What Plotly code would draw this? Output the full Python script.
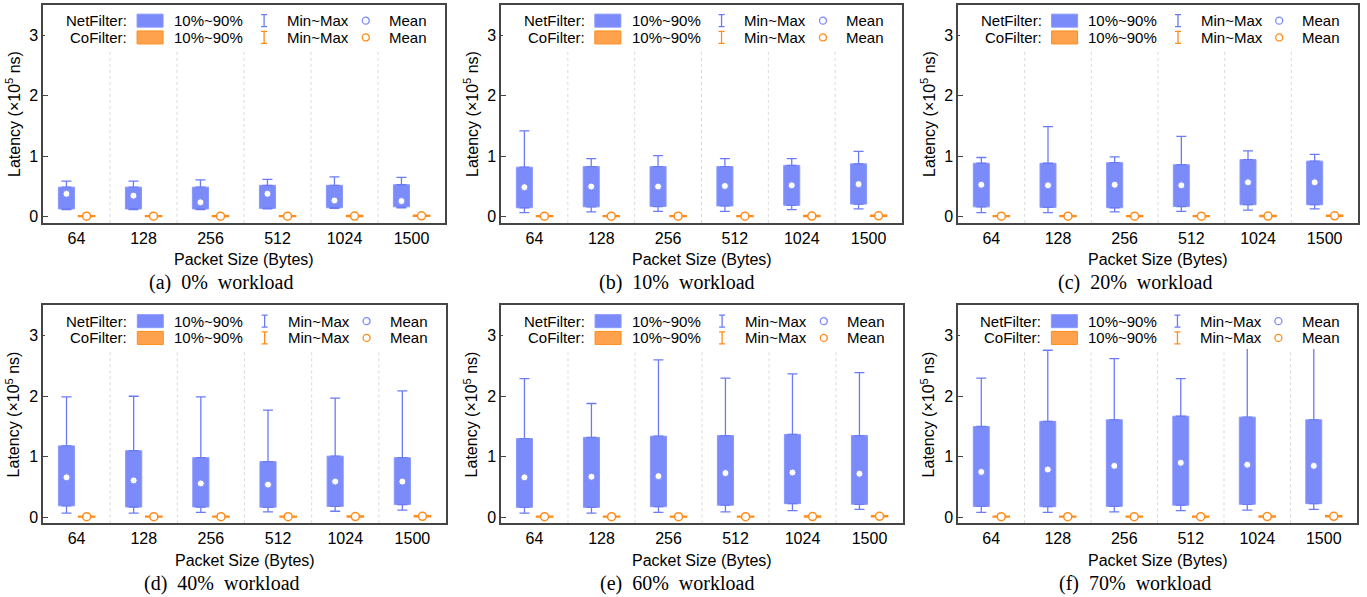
import plotly.graph_objects as go

# ---------------- data (latency in units of 1e5 ns) ----------------
sizes = ["64", "128", "256", "512", "1024", "1500"]
workloads = ["0%", "10%", "20%", "40%", "60%", "70%"]
panel_tags = ["(a)", "(b)", "(c)", "(d)", "(e)", "(f)"]

# NetFilter, one row per workload panel
net_p10 = [
    [0.13, 0.13, 0.13, 0.14, 0.15, 0.165],
    [0.15, 0.165, 0.17, 0.18, 0.19, 0.21],
    [0.165, 0.155, 0.15, 0.17, 0.20, 0.20],
    [0.19, 0.17, 0.17, 0.165, 0.18, 0.21],
    [0.165, 0.165, 0.175, 0.20, 0.225, 0.215],
    [0.18, 0.175, 0.18, 0.20, 0.215, 0.225],
]
net_p90 = [
    [0.49, 0.49, 0.49, 0.52, 0.52, 0.53],
    [0.82, 0.83, 0.83, 0.83, 0.85, 0.875],
    [0.885, 0.885, 0.895, 0.86, 0.945, 0.92],
    [1.18, 1.10, 0.985, 0.92, 1.01, 0.985],
    [1.30, 1.32, 1.34, 1.35, 1.37, 1.35],
    [1.50, 1.585, 1.61, 1.67, 1.655, 1.61],
]
net_min = [
    [0.12, 0.12, 0.12, 0.13, 0.14, 0.15],
    [0.07, 0.08, 0.09, 0.09, 0.12, 0.13],
    [0.07, 0.07, 0.08, 0.09, 0.11, 0.13],
    [0.07, 0.07, 0.08, 0.09, 0.10, 0.12],
    [0.07, 0.07, 0.08, 0.09, 0.11, 0.13],
    [0.08, 0.08, 0.09, 0.11, 0.12, 0.13],
]
net_max = [
    [0.59, 0.59, 0.61, 0.62, 0.66, 0.65],
    [1.42, 0.96, 1.01, 0.96, 0.96, 1.08],
    [0.98, 1.49, 0.99, 1.33, 1.09, 1.03],
    [1.99, 2.00, 1.99, 1.77, 1.97, 2.09],
    [2.29, 1.88, 2.60, 2.30, 2.37, 2.39],
    [2.30, 2.76, 2.62, 2.29, 3.10, 3.05],
]
net_mean = [
    [0.38, 0.35, 0.24, 0.38, 0.27, 0.26],
    [0.49, 0.50, 0.50, 0.51, 0.52, 0.54],
    [0.53, 0.52, 0.53, 0.52, 0.57, 0.57],
    [0.66, 0.61, 0.56, 0.54, 0.59, 0.59],
    [0.66, 0.67, 0.68, 0.73, 0.74, 0.72],
    [0.75, 0.79, 0.85, 0.90, 0.87, 0.85],
]
# CoFilter (nearly flat, same in every panel)
cof_p10 = [0.004, 0.004, 0.004, 0.004, 0.006, 0.008]
cof_p90 = [0.016, 0.016, 0.016, 0.016, 0.020, 0.024]
cof_mean = [0.010, 0.010, 0.010, 0.010, 0.013, 0.016]

# ---------------- style ----------------
W, H = 1367, 597
SANS = "Liberation Sans, Arial, sans-serif"
SERIF = "Liberation Serif, Times New Roman, serif"
BLUE_FILL = "#7c8bfa"
BLUE_LINE = "#8a98fb"
BLUE_WHISK = "#6b7bf6"
ORG_FILL = "#ffa24d"
ORG_LINE = "#ff8c1a"
FRAME = "#454545"
FS = 16

# plot-area pixel boxes (left, right, top, bottom)
boxes = [
    (43, 445, 5, 224), (501, 902, 5, 224), (958, 1358, 5, 224),
    (43, 446, 307, 526), (501, 903, 307, 526), (958, 1357, 307, 526),
]
caption_x = [221, 677, 1135, 222, 677, 1135]
caption_y = [284, 284, 284, 586, 586, 586]
xtitle_dy = 37

OFF = 0.15
BW = 0.24
xs = list(range(len(sizes)))

fig = go.Figure()
layout = dict(
    width=W, height=H, autosize=False,
    margin=dict(l=0, r=0, t=0, b=0),
    paper_bgcolor="white", plot_bgcolor="white",
    showlegend=False, barmode="overlay",
    font=dict(family=SANS, size=FS, color="black"),
)
shapes = []
annotations = []

for k in range(6):
    n = "" if k == 0 else str(k + 1)
    xr, yr = "x" + n, "y" + n
    L, R, T, B = boxes[k]
    xnet = [i - OFF for i in xs]
    xcof = [i + OFF for i in xs]

    fig.add_trace(go.Bar(
        x=xnet, base=net_p10[k],
        y=[a - b for a, b in zip(net_p90[k], net_p10[k])],
        width=BW, marker=dict(color=BLUE_FILL, line=dict(color=BLUE_LINE, width=1)),
        xaxis=xr, yaxis=yr, hoverinfo="skip"))
    fig.add_trace(go.Bar(
        x=xcof, base=cof_p10,
        y=[a - b for a, b in zip(cof_p90, cof_p10)],
        width=BW, marker=dict(color=ORG_FILL, line=dict(color=ORG_LINE, width=1.5)),
        xaxis=xr, yaxis=yr, hoverinfo="skip"))
    # upper whisker
    fig.add_trace(go.Scatter(
        x=xnet, y=net_p90[k], mode="markers",
        marker=dict(size=1, color="rgba(0,0,0,0)"),
        error_y=dict(type="data", symmetric=False,
                     array=[a - b for a, b in zip(net_max[k], net_p90[k])],
                     arrayminus=[0] * 6, color=BLUE_WHISK, thickness=1.3, width=5),
        xaxis=xr, yaxis=yr, hoverinfo="skip"))
    # lower whisker
    fig.add_trace(go.Scatter(
        x=xnet, y=net_p10[k], mode="markers",
        marker=dict(size=1, color="rgba(0,0,0,0)"),
        error_y=dict(type="data", symmetric=False,
                     array=[0] * 6,
                     arrayminus=[a - b for a, b in zip(net_p10[k], net_min[k])],
                     color=BLUE_WHISK, thickness=1.3, width=5),
        xaxis=xr, yaxis=yr, hoverinfo="skip"))
    # means
    fig.add_trace(go.Scatter(
        x=xnet, y=net_mean[k], mode="markers",
        marker=dict(size=7, color="white", line=dict(color=BLUE_FILL, width=1)),
        xaxis=xr, yaxis=yr, hoverinfo="skip"))
    fig.add_trace(go.Scatter(
        x=xcof, y=cof_mean, mode="markers",
        marker=dict(size=8, color="white", line=dict(color=ORG_LINE, width=1.5)),
        xaxis=xr, yaxis=yr, hoverinfo="skip"))

    layout["xaxis" + n] = dict(
        domain=[L / W, R / W], anchor=yr, range=[-0.5, 5.5],
        tickmode="array", tickvals=xs, ticktext=sizes, ticks="",
        showgrid=False, zeroline=False, showline=True, mirror=True,
        linecolor=FRAME, linewidth=1.5,
        tickfont=dict(family=SANS, size=FS, color="black"),
    )
    layout["yaxis" + n] = dict(
        domain=[1 - B / H, 1 - T / H], anchor=xr, range=[-0.1, 3.5],
        tickmode="array", tickvals=[0, 1, 2, 3], ticks="inside", ticklen=5,
        tickcolor=FRAME, tickwidth=1.2,
        showgrid=False, zeroline=False, showline=True, mirror=True,
        linecolor=FRAME, linewidth=1.5,
        tickfont=dict(family=SANS, size=FS, color="black"),
    )

    xd = xr + " domain"
    yd = yr + " domain"
    # vertical dotted separators
    for g in [0.5, 1.5, 2.5, 3.5, 4.5]:
        shapes.append(dict(type="line", xref=xr, yref=yd, x0=g, x1=g, y0=0, y1=0.80,
                           line=dict(color="#dadada", width=1, dash="dot"), layer="below"))
    # opaque legend background
    shapes.append(dict(type="rect", xref=xd, yref=yd, x0=0.005, x1=0.995, y0=0.80, y1=0.993,
                       fillcolor="white", line=dict(width=0), layer="above"))
    rows = [(0.928, "NetFilter:", BLUE_FILL, BLUE_LINE, BLUE_WHISK, BLUE_FILL),
            (0.851, "CoFilter:", ORG_FILL, ORG_LINE, ORG_LINE, ORG_LINE)]
    for (ry, name, fill, line, wc, mc) in rows:
        annotations.append(dict(xref=xd, yref=yd, x=0.214, y=ry, text=name, showarrow=False,
                                xanchor="right", yanchor="middle",
                                font=dict(family=SANS, size=15, color="black")))
        shapes.append(dict(type="rect", xref=xd, yref=yd, xsizemode="pixel", ysizemode="pixel",
                           xanchor=0.234, yanchor=ry, x0=0, x1=26, y0=-6.5, y1=6.5,
                           fillcolor=fill, line=dict(color=line, width=1), layer="above"))
        annotations.append(dict(xref=xd, yref=yd, x=0.321, y=ry, text="10%~90%", showarrow=False,
                                xanchor="left", yanchor="middle",
                                font=dict(family=SANS, size=15, color="black")))
        shapes.append(dict(type="path", xref=xd, yref=yd, xsizemode="pixel", ysizemode="pixel",
                           xanchor=0.550, yanchor=ry,
                           path="M-3,-6 H3 M0,-6 V6 M-3,6 H3",
                           line=dict(color=wc, width=1.3), layer="above"))
        annotations.append(dict(xref=xd, yref=yd, x=0.602, y=ry, text="Min~Max", showarrow=False,
                                xanchor="left", yanchor="middle",
                                font=dict(family=SANS, size=15, color="black")))
        shapes.append(dict(type="circle", xref=xd, yref=yd, xsizemode="pixel", ysizemode="pixel",
                           xanchor=0.803, yanchor=ry, x0=-3.5, x1=3.5, y0=-3.5, y1=3.5,
                           fillcolor="white", line=dict(color=mc, width=1.3), layer="above"))
        annotations.append(dict(xref=xd, yref=yd, x=0.856, y=ry, text="Mean", showarrow=False,
                                xanchor="left", yanchor="middle",
                                font=dict(family=SANS, size=15, color="black")))

    # y-axis title
    annotations.append(dict(xref="paper", yref="paper", x=(L - 30) / W, y=1 - (T + B) / 2 / H,
                            text="Latency (×10<sup>5</sup> ns)", textangle=-90, showarrow=False,
                            xanchor="center", yanchor="middle",
                            font=dict(family=SANS, size=FS, color="black")))
    # x-axis title
    annotations.append(dict(xref="paper", yref="paper", x=(L + R) / 2 / W, y=1 - (B + xtitle_dy) / H,
                            text="Packet Size (Bytes)", showarrow=False,
                            xanchor="center", yanchor="middle",
                            font=dict(family=SANS, size=FS, color="black")))
    # caption
    annotations.append(dict(xref="paper", yref="paper", x=caption_x[k] / W, y=1 - caption_y[k] / H,
                            text=f"{panel_tags[k]}\u00a0 {workloads[k]}\u00a0 workload", showarrow=False,
                            xanchor="center", yanchor="middle",
                            font=dict(family=SERIF, size=20, color="black")))

layout["shapes"] = shapes
layout["annotations"] = annotations
fig.update_layout(**layout)
fig.write_html("out.html", config={"displayModeBar": False},
               post_script="document.body.style.margin='0';document.body.style.overflow='hidden';")
